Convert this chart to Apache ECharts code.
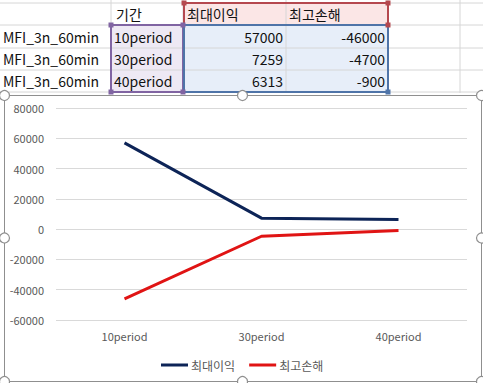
<!DOCTYPE html>
<html><head><meta charset="utf-8">
<script src="https://cdn.jsdelivr.net/npm/echarts@6/dist/echarts.min.js"></script>
<style>html,body{margin:0;padding:0;background:#fff;}#c{width:483px;height:383px;}</style>
</head><body><div id="c"></div>
<script>
const categories = ['10period', '30period', '40period'];
const maxProfit = [57000, 7259, 6313];
const maxLoss = [-46000, -4700, -900];
const seriesNames = ['최대이익', '최고손해'];
const periodHeader = '기간';
const rowLabel = 'MFI_3n_60min';
const yMin = -60000, yMax = 80000, yStep = 20000;

const FONT = '"Noto Sans CJK KR", "Noto Sans", sans-serif';
const chart = echarts.init(document.getElementById('c'), null, {renderer: 'svg'});

// ---- spreadsheet table above chart (graphic) ----
const g = [];
const rowsY = [3, 25, 48, 70, 92];
const colsX = [111, 183, 286, 388, 460];
g.push({type:'rect', shape:{x:111,y:25,width:72,height:67}, style:{fill:'#eee9f4'}, silent:true});
g.push({type:'rect', shape:{x:183,y:3,width:205,height:22}, style:{fill:'#fbe6e6'}, silent:true});
g.push({type:'rect', shape:{x:183,y:25,width:205,height:67}, style:{fill:'#e7eef9'}, silent:true});
rowsY.forEach(y => g.push({type:'line', shape:{x1:0,y1:y,x2:483,y2:y}, style:{stroke:'#d6d6d6',lineWidth:1}, silent:true}));
colsX.forEach(x => g.push({type:'line', shape:{x1:x,y1:0,x2:x,y2:93}, style:{stroke:'#d6d6d6',lineWidth:1}, silent:true}));
const tStyle = (txt, x, y, align) => ({type:'text', x:x, y:y, style:{text:txt, font:'14px ' + FONT, fill:'#111', align:align||'left', verticalAlign:'middle'}, silent:true});
g.push(tStyle(periodHeader, 116, 14));
g.push(tStyle(seriesNames[0], 187, 14));
g.push(tStyle(seriesNames[1], 289, 14));
categories.forEach((c, i) => {
  const cy = 37 + i * 22;
  g.push(tStyle(rowLabel, 3, cy));
  g.push(tStyle(c, 114, cy));
  g.push(tStyle(String(maxProfit[i]), 283, cy, 'right'));
  g.push(tStyle(String(maxLoss[i]), 385, cy, 'right'));
});
const border = (x, y, w, h, col) => {
  g.push({type:'rect', shape:{x:x,y:y,width:w,height:h}, style:{fill:'none',stroke:col,lineWidth:2}, silent:true});
};
border(111, 25, 72, 67, '#8064a2');
border(184, 3, 204, 22, '#b5484f');
border(184, 25, 204, 67, '#4f74a8');
const sq = (x, y, col) => g.push({type:'rect', shape:{x:x-2.5,y:y-2.5,width:5,height:5}, style:{fill:col}, silent:true});
sq(111,25,'#8064a2'); sq(183,25,'#8064a2'); sq(111,92,'#8064a2'); sq(183,92,'#8064a2');
sq(184,3,'#b5484f'); sq(388,3,'#b5484f'); sq(388,25,'#b5484f');
sq(388,92,'#4f74a8');
g.push({type:'rect', shape:{x:4.5,y:95.5,width:477,height:286}, style:{fill:'#fff',stroke:'#8f8f8f',lineWidth:1}, silent:true, z:-1});
const handle = (x, y) => g.push({type:'circle', shape:{cx:x,cy:y,r:5}, style:{fill:'#fff',stroke:'#8f8f8f',lineWidth:1.2}, silent:true, z:10});
[[4.5,95.5],[242.5,95.5],[481.5,95.5],[4.5,238],[481.5,238],[4.5,381.5],[242.5,381.5],[481.5,381.5]].forEach(p => handle(p[0], p[1]));

chart.setOption({
  animation: false,
  backgroundColor: '#fff',
  textStyle: {fontFamily: FONT},
  graphic: {elements: g},
  grid: {left: 56, top: 108, width: 411, height: 212, containLabel: false},
  legend: {
    data: seriesNames,
    left: 156, top: 354,
    icon: 'rect', itemWidth: 27, itemHeight: 3, itemGap: 14,
    textStyle: {fontSize: 12, color: '#595959', fontFamily: FONT, padding: [0,0,0,-2]}
  },
  xAxis: {
    type: 'category', data: categories, boundaryGap: true,
    axisLine: {show: false, onZero: false}, axisTick: {show: false},
    axisLabel: {color: '#595959', fontSize: 11, margin: 10, fontFamily: FONT}
  },
  yAxis: {
    type: 'value', min: yMin, max: yMax, interval: yStep,
    axisLine: {show: false}, axisTick: {show: false},
    axisLabel: {color: '#595959', fontSize: 11, margin: 12, fontFamily: FONT, formatter: v => String(v)},
    splitLine: {lineStyle: {color: '#d9d9d9', width: 1}}
  },
  series: [
    {name: seriesNames[0], type: 'line', data: maxProfit, symbol: 'none', lineStyle: {color: '#0d2457', width: 3}, itemStyle: {color: '#0d2457'}},
    {name: seriesNames[1], type: 'line', data: maxLoss, symbol: 'none', lineStyle: {color: '#e01414', width: 3}, itemStyle: {color: '#e01414'}}
  ]
});
</script></body></html>
